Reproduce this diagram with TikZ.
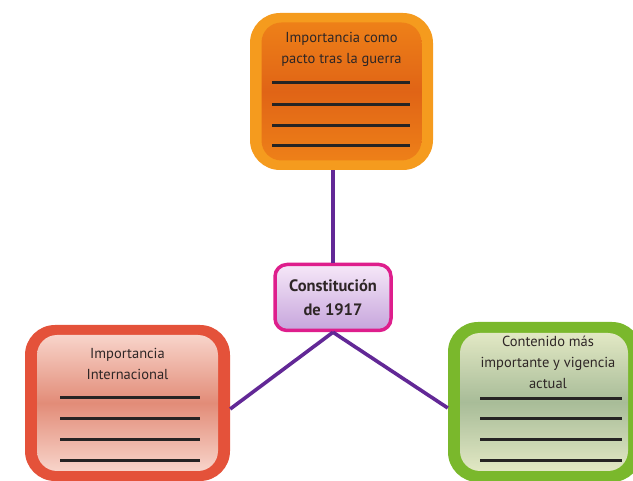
\documentclass[tikz,border=0pt]{standalone}
\usepackage{fontspec}
\setmainfont{PT Sans}
\usepackage{xcolor}
\usepackage{tikz}
\usetikzlibrary{positioning, calc}
\definecolor{orgout}{RGB}{245, 155, 30}
\definecolor{orgtop}{RGB}{238, 128, 24}
\definecolor{orgmid}{RGB}{224, 100, 22}
\definecolor{redout}{RGB}{228, 82, 58}
\definecolor{redtop}{RGB}{248, 212, 202}
\definecolor{redmid}{RGB}{226, 140, 120}
\definecolor{grnout}{RGB}{122, 184, 44}
\definecolor{grntop}{RGB}{226, 232, 196}
\definecolor{grnmid}{RGB}{168, 188, 152}
\definecolor{cstborder}{RGB}{222, 30, 140}
\definecolor{csttop}{RGB}{246, 232, 248}
\definecolor{cstbot}{RGB}{198, 164, 220}
\definecolor{linkpurple}{RGB}{98, 40, 150}
\definecolor{rulegray}{RGB}{38, 36, 36}
\definecolor{txtgray}{RGB}{46, 38, 38}

\begin{document}
\begin{tikzpicture}[x=1pt, y=-1pt,
    frame/.style={rectangle, rounded corners=30pt, fill=#1, inner sep=0pt},
    panel/.style={rectangle, rounded corners=20pt, inner sep=0pt,
                  top color=#1top, bottom color=#1top, middle color=#1mid},
    label/.style={align=center, text=txtgray, font=\fontsize{14.5}{21}\selectfont},
    rule/.style={draw=rulegray, line width=3pt},
    link/.style={draw=linkpurple, line width=3.6pt},
]
\clip (0,0) rectangle (633,481);

\node[frame=orgout, minimum width=183pt, minimum height=157pt] (top) at (341.5,91.5) {};
\node[panel=org, minimum width=160pt, minimum height=138pt] (topin) at (top) {};
\node[label] (toptxt) at (341.5,49) {Importancia como\\pacto tras la guerra};
\foreach \y in {83,105,126,146}
    \draw[rule] (272,\y) -- (410,\y);

\node[frame=redout, minimum width=205pt, minimum height=156pt] (lft) at (127.5,403) {};
\node[panel=red, minimum width=181pt, minimum height=136pt] (lftin) at (lft) {};
\node[label] (lfttxt) at (127.5,364) {Importancia\\Internacional};
\foreach \y in {398,419,440,461}
    \draw[rule] (60,\y) -- (200,\y);

\node[frame=grnout, minimum width=194pt, minimum height=160pt] (rgt) at (545,402) {};
\node[panel=grn, minimum width=168pt, minimum height=138pt] (rgtin) at (544,402) {};
\node[label] (rgttxt) at (548,362.5) {Contenido más\\importante y vigencia\\actual};
\foreach \y in {399,419,440,461}
    \draw[rule] (480,\y) -- (622,\y);

\node[draw=cstborder, line width=3.5pt, rounded corners=12pt,
      top color=csttop, bottom color=cstbot, text=txtgray,
      minimum width=116pt, minimum height=66pt, align=center,
      font=\bfseries\fontsize{16.5}{24}\selectfont] (cst) at (333,297.5) {Constitución\\de 1917};

\draw[link] (cst.north) -- (cst.north |- top.south);
\draw[link] (cst.south) -- ([yshift=-6pt]lft.east);
\draw[link] (cst.south) -- ([yshift=-6pt]rgt.west);

\end{tikzpicture}
\end{document}
